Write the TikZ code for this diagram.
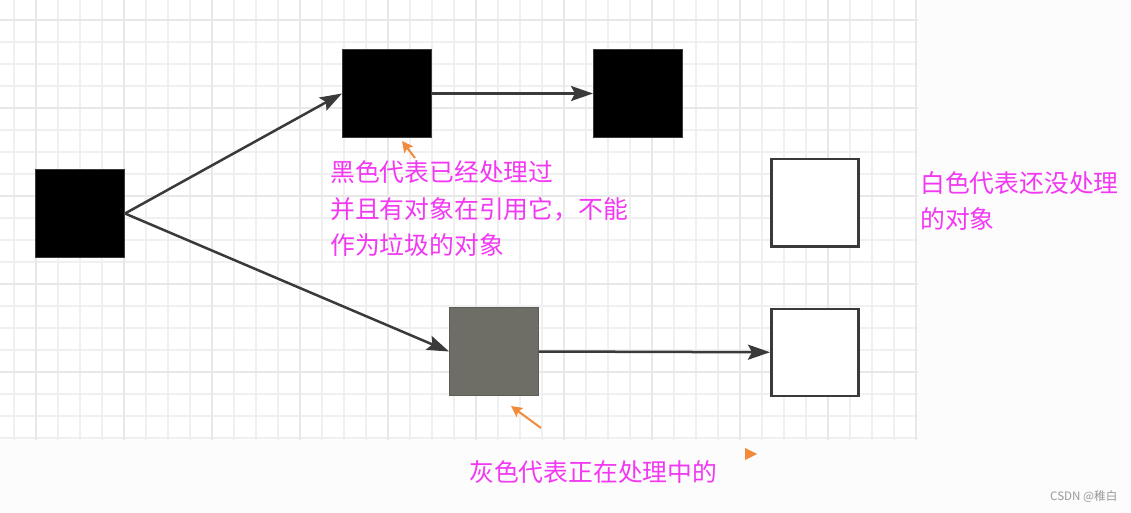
\documentclass[tikz,border=0pt]{standalone}
\usepackage{fontspec}
\newfontfamily\cjk{Noto Sans CJK SC}
\usetikzlibrary{arrows.meta}
\definecolor{lineC}{HTML}{3A3A3A}
\definecolor{gridMinor}{HTML}{F0F0F0}
\definecolor{gridMajor}{HTML}{E8E8E8}
\definecolor{grayFill}{HTML}{6E6D66}
\definecolor{noteC}{HTML}{F238F2}
\definecolor{pointC}{HTML}{F28A3C}
\definecolor{bgC}{HTML}{FCFCFC}
\tikzset{
  obj/.style={draw=lineC, line width=1pt, minimum width=89pt, minimum height=88pt, inner sep=0pt, anchor=north west},
  blackobj/.style={obj, fill=black},
  grayobj/.style={obj, fill=grayFill, draw=grayFill!85!black},
  whiteobj/.style={obj, fill=white, line width=2.5pt, minimum width=87pt, minimum height=87pt},
  link/.style={draw=lineC, line width=2.5pt, -{Stealth[length=22pt,width=15pt,inset=4pt]}},
  pointer/.style={draw=pointC, line width=2pt, -{Stealth[length=11pt,width=11pt,inset=2pt]}},
  note/.style={text=noteC, font=\cjk\fontsize{24.8}{36.5}\selectfont, align=left, inner sep=0pt, anchor=west},
}
\begin{document}
\begin{tikzpicture}[x=1pt,y=-1pt]
\useasboundingbox (0,0) rectangle (1131,513);
\fill[bgC] (0,0) rectangle (1131,513);
\fill[white] (0,0) rectangle (918,440);
% grid
\foreach \x in {14,36,...,916} \draw[gridMinor, line width=1.2pt] (\x,0) -- (\x,440);
\foreach \y in {20,42,...,438} \draw[gridMinor, line width=1.2pt] (0,\y) -- (918,\y);
\foreach \x in {36,124,...,916} \draw[gridMajor, line width=1.2pt] (\x,0) -- (\x,440);
\foreach \y in {20,108,...,438} \draw[gridMajor, line width=1.2pt] (0,\y) -- (918,\y);
% objects
\node[blackobj] (A) at (35,169) {};
\node[blackobj] (B) at (342,49) {};
\node[blackobj] (C) at (593,49) {};
\node[grayobj]  (D) at (449,307) {};
\node[whiteobj] (E) at (770,158) {};
\node[whiteobj] (F) at (770,307.5) {};
% links
\draw[link] (A.east) -- (B.west);
\draw[link] (A.east) -- (D.west);
\draw[link] (B.east) -- (C.west);
\draw[link] (D.east) -- (F.west);
% notes
\node[note] (n1) at (330,209) {黑色代表已经处理过\\并且有对象在引用它，不能\\作为垃圾的对象};
\node[note] (n2) at (920,201) {白色代表还没处理\\的对象};
\node[note] (n3) at (469,472) {灰色代表正在处理中的};
\node[text=gray!80, font=\cjk\fontsize{11.6}{13}\selectfont, inner sep=0pt, anchor=west] (wm) at (1050,497) {CSDN @稚白};
% pointers
\coordinate (p1s) at (415,158);
\coordinate (p1e) at (402,141);
\draw[pointer] (p1s) -- (p1e);
\coordinate (p2s) at (541,428);
\coordinate (p2e) at (511,406);
\draw[pointer] (p2s) -- (p2e);
\fill[pointC] (745,448) -- (757,454) -- (745,460) -- cycle;
\end{tikzpicture}
\end{document}
